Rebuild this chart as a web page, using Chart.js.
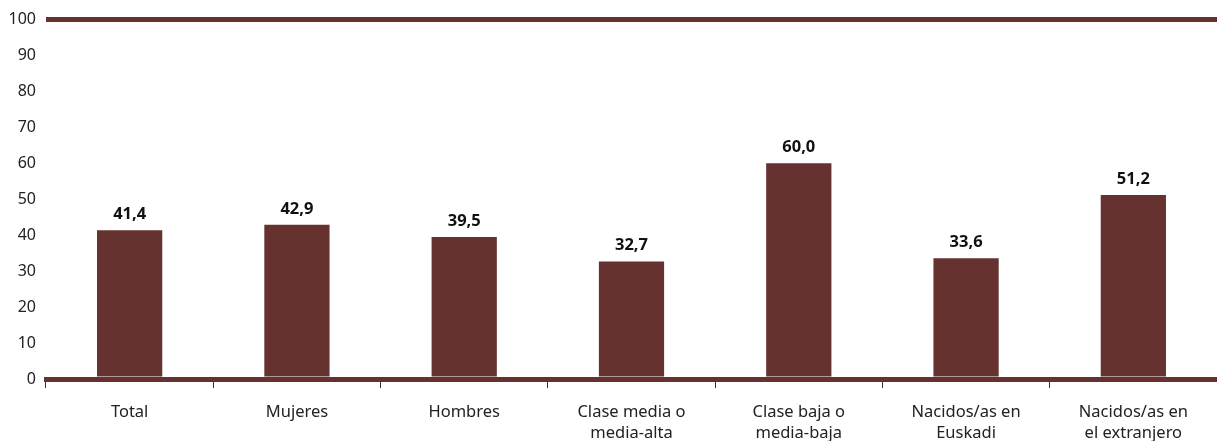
<!DOCTYPE html>
<html>
<head>
<meta charset="utf-8">
<script src="https://cdn.jsdelivr.net/npm/chart.js@4/dist/chart.umd.min.js"></script>
<style>
  html, body { margin: 0; padding: 0; background: #fff; overflow: hidden; }
  #wrap { width: 1217px; height: 441px; position: relative; }
</style>
</head>
<body>
<div id="wrap"><canvas id="c"></canvas></div>
<script>
// Categories (multi-line labels) and percentage values
const categories = [
  'Total',
  'Mujeres',
  'Hombres',
  ['Clase media o', 'media-alta'],
  ['Clase baja o', 'media-baja'],
  ['Nacidos/as en', 'Euskadi'],
  ['Nacidos/as en', 'el extranjero']
];
const values = [41.4, 42.9, 39.5, 32.7, 60.0, 33.6, 51.2];
const valueLabels = ['41,4', '42,9', '39,5', '32,7', '60,0', '33,6', '51,2'];

const MAROON = '#663230';
const FONT = '"Noto Sans", "Open Sans", sans-serif';

// Writes each bar's value above it
const barValues = {
  id: 'barValues',
  afterDatasetsDraw(chart) {
    const ctx = chart.ctx;
    const meta = chart.getDatasetMeta(0);
    ctx.save();
    ctx.font = 'bold 16.5px ' + FONT;
    ctx.fillStyle = '#111';
    ctx.textAlign = 'center';
    ctx.textBaseline = 'alphabetic';
    meta.data.forEach((bar, i) => {
      ctx.fillText(valueLabels[i], bar.x, bar.y - 11);
    });
    ctx.restore();
  }
};

new Chart(document.getElementById('c'), {
  type: 'bar',
  data: {
    labels: categories,
    datasets: [{
      data: values,
      backgroundColor: MAROON,
      borderWidth: 0,
      categoryPercentage: 1,
      barPercentage: 0.39
    }]
  },
  options: {
    responsive: true,
    maintainAspectRatio: false,
    animation: false,
    layout: { padding: { top: 14, right: 0, bottom: 0, left: 0 } },
    plugins: { legend: { display: false }, tooltip: { enabled: false } },
    scales: {
      x: {
        offset: true,
        grid: {
          offset: true,
          drawOnChartArea: false,
          drawTicks: true,
          tickLength: 9,
          color: '#333',
          lineWidth: 1
        },
        border: { display: true, color: MAROON, width: 5 },
        ticks: {
          color: '#222',
          font: { family: FONT, size: 16.5, lineHeight: 1.28 },
          padding: 14,
          maxRotation: 0,
          autoSkip: false
        },
        afterFit(axis) { axis.height = 62; }
      },
      y: {
        min: 0,
        max: 100,
        grid: {
          drawTicks: false,
          lineWidth: 5,
          color: (c) => (c.tick && c.tick.value === 100 ? MAROON : 'rgba(0,0,0,0)')
        },
        border: { display: false },
        ticks: {
          stepSize: 10,
          color: '#222',
          font: { family: FONT, size: 16 },
          padding: 10
        },
        afterFit(axis) { axis.width = 46; }
      }
    }
  },
  plugins: [barValues]
});
</script>
</body>
</html>
